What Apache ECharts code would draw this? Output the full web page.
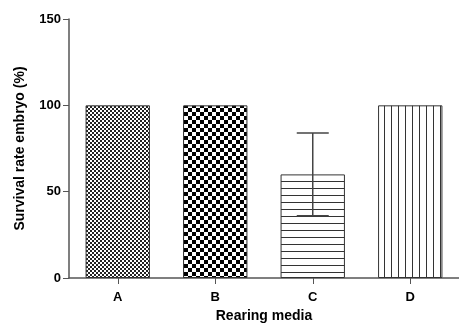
<!DOCTYPE html>
<html><head><meta charset="utf-8">
<script src="https://cdn.jsdelivr.net/npm/echarts@6/dist/echarts.min.js"></script>
<style>html,body{margin:0;padding:0;background:#fff}#c{width:459px;height:331px}</style>
</head><body><div id="c"></div>
<script>
const categories = ['A', 'B', 'C', 'D'];
const survival = [100, 100, 60, 100];
const errLow = [null, null, 36, null];
const errHigh = [null, null, 84, null];
const yTicks = [0, 50, 100, 150];

function pat(kind) {
  const c = document.createElement('canvas');
  const ctx = c.getContext('2d');
  if (kind === 'fine') {
    c.width = 4; c.height = 4;
    ctx.fillStyle = '#fff'; ctx.fillRect(0,0,4,4);
    ctx.fillStyle = '#222';
    ctx.fillRect(0,0,2,2); ctx.fillRect(2,2,2,2);
  } else if (kind === 'coarse') {
    c.width = 8; c.height = 8;
    ctx.fillStyle = '#fff'; ctx.fillRect(0,0,8,8);
    ctx.fillStyle = '#000';
    ctx.fillRect(0,0,4,4); ctx.fillRect(4,4,4,4);
  } else if (kind === 'h') {
    c.width = 8; c.height = 7;
    ctx.fillStyle = '#fff'; ctx.fillRect(0,0,8,7);
    ctx.fillStyle = '#333'; ctx.fillRect(0,6,8,1);
  } else {
    c.width = 7; c.height = 8;
    ctx.fillStyle = '#fff'; ctx.fillRect(0,0,7,8);
    ctx.fillStyle = '#333'; ctx.fillRect(6,0,1,8);
  }
  return { image: c, repeat: 'repeat' };
}
const patterns = [pat('fine'), pat('coarse'), pat('h'), pat('v')];

const chart = echarts.init(document.getElementById('c'));
const font = 'Liberation Sans, Arial, sans-serif';
chart.setOption({
  animation: false,
  grid: { left: 69, right: 0, top: 19, bottom: 53 },
  xAxis: {
    type: 'category', data: categories,
    name: 'Rearing media', nameLocation: 'middle', nameGap: 27,
    nameTextStyle: { fontFamily: font, fontWeight: 'bold', fontSize: 14, color: '#000' },
    axisLine: { lineStyle: { color: '#555', width: 1.5 } },
    axisTick: { show: true, alignWithLabel: true, length: 6, lineStyle: { color: '#555' } },
    axisLabel: { fontFamily: font, fontWeight: 'bold', fontSize: 13, color: '#000', margin: 13 }
  },
  yAxis: {
    type: 'value', min: 0, max: 150, interval: 50,
    name: 'Survival rate embryo (%)', nameLocation: 'middle', nameGap: 42, nameRotate: 90,
    nameTextStyle: { fontFamily: font, fontWeight: 'bold', fontSize: 14, color: '#000' },
    axisLine: { show: true, lineStyle: { color: '#555', width: 1.5 } },
    axisTick: { show: true, length: 6, lineStyle: { color: '#555' } },
    splitLine: { show: false },
    axisLabel: { fontFamily: font, fontWeight: 'bold', fontSize: 13, color: '#000', margin: 8,
      formatter: v => yTicks.includes(v) ? String(v) : '' }
  },
  series: [
    {
      type: 'bar', barWidth: '66%',
      data: survival.map((v, i) => ({ value: v, itemStyle: { color: patterns[i], borderColor: '#333', borderWidth: 1 } }))
    },
    {
      type: 'custom',
      renderItem: function (params, api) {
        const i = params.dataIndex;
        if (errLow[i] == null) return null;
        const lo = api.coord([i, errLow[i]]);
        const hi = api.coord([i, errHigh[i]]);
        const hw = 16;
        const st = { stroke: '#444', lineWidth: 1.5 };
        return { type: 'group', children: [
          { type: 'line', shape: { x1: lo[0], y1: lo[1], x2: hi[0], y2: hi[1] }, style: st },
          { type: 'line', shape: { x1: hi[0]-hw, y1: hi[1], x2: hi[0]+hw, y2: hi[1] }, style: st },
          { type: 'line', shape: { x1: lo[0]-hw, y1: lo[1], x2: lo[0]+hw, y2: lo[1] }, style: st }
        ]};
      },
      data: categories.map((c, i) => [i, survival[i]]),
      z: 10
    }
  ]
});
</script></body></html>
